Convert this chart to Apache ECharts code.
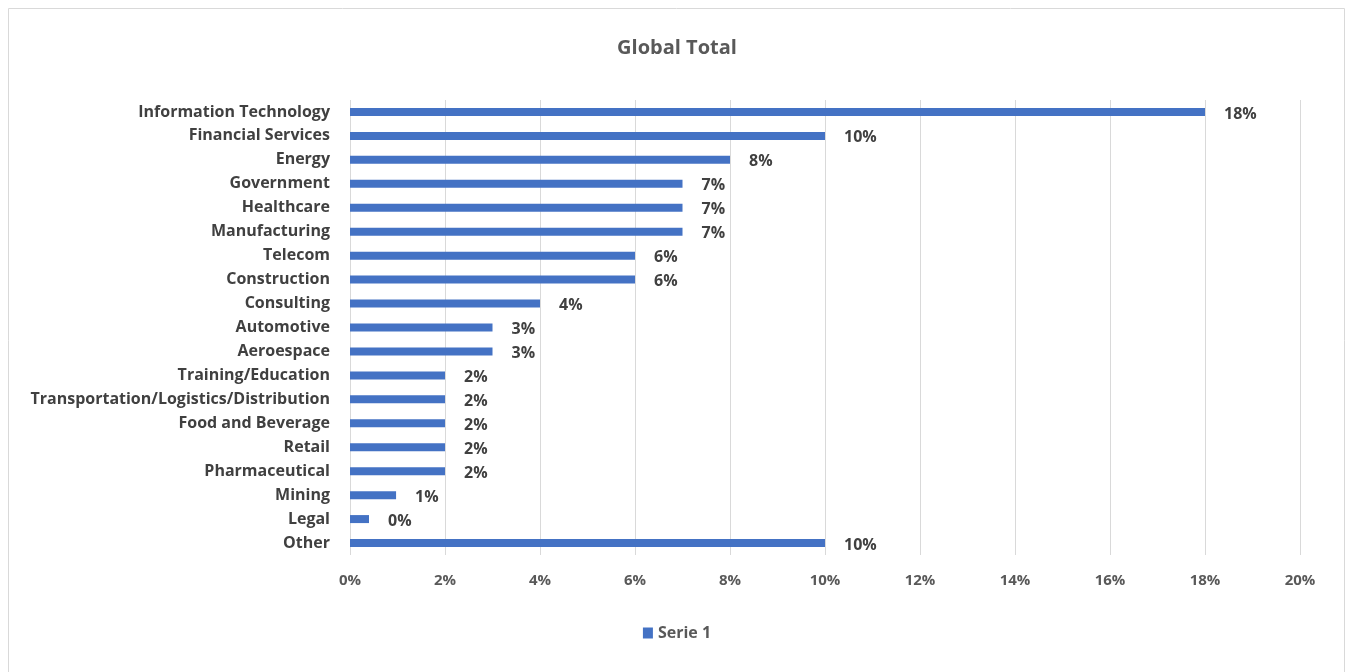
<!DOCTYPE html>
<html><head><meta charset="utf-8">
<script src="https://cdn.jsdelivr.net/npm/echarts@6/dist/echarts.min.js"></script>
<style>html,body{margin:0;padding:0;background:#fff}#c{width:1354px;height:672px}</style>
</head><body><div id="c"></div>
<script>
const categories = ["Information Technology","Financial Services","Energy","Government","Healthcare","Manufacturing","Telecom","Construction","Consulting","Automotive","Aeroespace","Training/Education","Transportation/Logistics/Distribution","Food and Beverage","Retail","Pharmaceutical","Mining","Legal","Other"];
const serie1 = [18,10,8,7,7,7,6,6,4,3,3,2,2,2,2,2,0.97,0.4,10];
const xTicks = [0,2,4,6,8,10,12,14,16,18,20];
const font = "'Open Sans', sans-serif";
const chart = echarts.init(document.getElementById('c'));
chart.setOption({
  animation:false,
  graphic:[{type:'rect',shape:{x:8.5,y:8.5,width:1336,height:700},style:{fill:'none',stroke:'#d9d9d9',lineWidth:1}}],
  title:{text:'Global Total',left:'center',top:33,textStyle:{fontFamily:font,fontSize:20,fontWeight:'bold',color:'#595959'}},
  legend:{bottom:26,left:'center',itemWidth:10,itemHeight:11,itemGap:4,icon:'rect',textStyle:{fontFamily:font,fontSize:16,fontWeight:'bold',color:'#595959'},data:['Serie 1']},
  grid:{left:350,right:54,top:100,bottom:117},
  xAxis:{type:'value',min:xTicks[0],max:xTicks[xTicks.length-1],interval:2,
    axisLine:{show:false},axisTick:{show:false},
    splitLine:{lineStyle:{color:'#d9d9d9',width:1}},
    axisLabel:{formatter:v=>v+'%',fontFamily:font,fontSize:15,fontWeight:'bold',color:'#595959',margin:18}},
  yAxis:{type:'category',inverse:true,data:categories,
    axisLine:{show:false},axisTick:{show:false},
    axisLabel:{fontFamily:font,fontSize:16,fontWeight:'bold',color:'#404040',margin:20,padding:[0,0,4,0]}},
  series:[{name:'Serie 1',type:'bar',data:serie1,barWidth:8,itemStyle:{color:'#4472C4'},
    label:{show:true,position:'right',distance:19,formatter:p=>Math.round(p.value)+'%',fontFamily:font,fontSize:16,fontWeight:'bold',color:'#404040',offset:[0,2]}}]
});
</script></body></html>
